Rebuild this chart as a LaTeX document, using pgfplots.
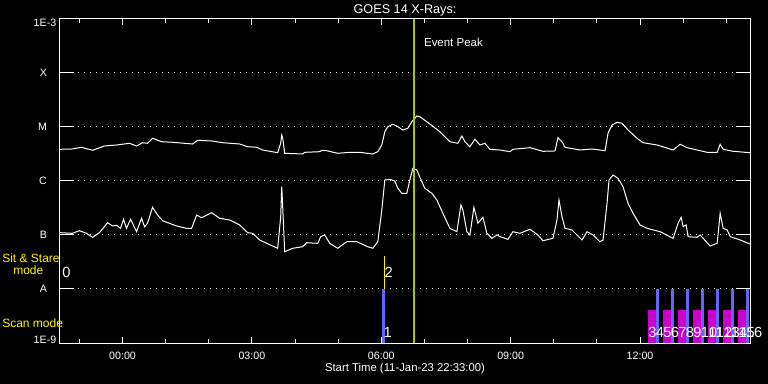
\documentclass[border=0pt]{standalone}
\usepackage{fontspec}
\setmainfont{Liberation Sans}
\usepackage{pgfplots}
\pgfplotsset{compat=1.18}
\usepackage{pgfplotstable}
\definecolor{peak}{RGB}{160,205,0}
\definecolor{barblue}{RGB}{100,100,255}
\definecolor{scanmag}{RGB}{204,0,204}

% hours after 12-Jan-23 00:00, log10 flux (W/m^2)
\pgfplotstableread{
h ly
-1.45 -5.413
-1.161 -5.407
-0.952 -5.376
-0.696 -5.431
-0.418 -5.352
-0.139 -5.333
0.162 -5.302
0.325 -5.352
0.464 -5.291
0.580 -5.302
0.696 -5.209
0.905 -5.272
1.161 -5.283
1.625 -5.315
1.741 -5.246
2.066 -5.259
2.321 -5.291
2.716 -5.315
2.902 -5.365
3.110 -5.376
3.250 -5.426
3.598 -5.476
3.668 -5.296
3.691 -5.148
3.714 -5.204
3.760 -5.487
4.178 -5.500
4.225 -5.469
4.573 -5.457
4.619 -5.431
4.735 -5.439
4.991 -5.487
5.269 -5.469
5.501 -5.469
5.803 -5.500
5.919 -5.457
6.012 -5.333
6.082 -5.087
6.151 -4.994
6.267 -4.950
6.360 -4.981
6.500 -5.056
6.616 -5.024
6.709 -4.902
6.825 -4.796
6.894 -4.809
7.126 -4.944
7.358 -5.087
7.591 -5.272
7.776 -5.302
7.869 -5.167
7.939 -5.272
8.055 -5.365
8.171 -5.228
8.287 -5.333
8.403 -5.302
8.519 -5.413
8.751 -5.426
8.983 -5.457
9.053 -5.413
9.448 -5.383
9.749 -5.450
10.028 -5.444
10.097 -5.198
10.190 -5.272
10.260 -5.376
10.608 -5.426
10.887 -5.407
11.189 -5.439
11.258 -5.117
11.351 -4.963
11.467 -4.913
11.583 -4.931
11.722 -5.056
11.931 -5.209
12.070 -5.291
12.396 -5.333
12.767 -5.426
12.930 -5.320
13.092 -5.383
13.556 -5.469
13.788 -5.469
13.858 -5.320
13.928 -5.413
14.160 -5.450
14.55 -5.476
}\upcurve

\pgfplotstableread{
h ly
-1.45 -6.957
-1.161 -6.969
-0.998 -6.920
-0.836 -6.969
-0.696 -7.043
-0.534 -6.957
-0.348 -6.772
-0.232 -6.833
-0.139 -6.820
-0.046 -6.876
0.023 -6.709
0.093 -6.876
0.186 -6.709
0.325 -6.939
0.441 -6.691
0.511 -6.846
0.580 -6.783
0.696 -6.487
0.812 -6.630
0.929 -6.735
1.253 -6.833
1.486 -6.876
1.602 -6.876
1.718 -6.630
1.834 -6.680
2.066 -6.587
2.252 -6.691
2.484 -6.722
2.716 -6.815
2.902 -6.957
3.018 -6.969
3.180 -7.093
3.343 -7.154
3.598 -7.246
3.668 -6.661
3.691 -6.106
3.714 -6.476
3.760 -7.309
3.946 -7.246
4.178 -7.217
4.271 -7.143
4.526 -7.154
4.596 -7.031
4.689 -7.000
4.805 -7.154
4.991 -7.246
5.200 -7.124
5.432 -7.124
5.687 -7.217
5.803 -7.246
5.919 -7.124
6.012 -6.537
6.082 -5.981
6.198 -5.969
6.314 -6.000
6.383 -6.135
6.476 -6.228
6.592 -6.228
6.662 -5.981
6.732 -5.765
6.825 -5.796
6.894 -5.931
7.010 -6.135
7.173 -6.228
7.289 -6.352
7.428 -6.598
7.591 -6.876
7.753 -6.939
7.846 -6.444
7.892 -6.537
7.985 -6.939
8.055 -7.000
8.148 -6.487
8.241 -6.783
8.357 -6.672
8.449 -6.969
8.566 -7.061
8.682 -7.000
8.751 -7.031
8.937 -7.080
9.053 -6.939
9.215 -6.969
9.448 -6.894
9.633 -7.000
9.749 -7.106
9.981 -7.061
10.074 -6.722
10.121 -6.352
10.190 -6.661
10.260 -6.876
10.422 -6.907
10.654 -7.093
10.771 -6.939
10.910 -7.000
11.072 -7.124
11.142 -7.093
11.235 -6.413
11.281 -5.981
11.374 -5.889
11.490 -5.950
11.606 -6.106
11.722 -6.413
11.838 -6.598
12.001 -6.815
12.163 -6.876
12.465 -6.939
12.767 -7.061
12.883 -6.783
12.953 -6.672
12.999 -6.846
13.069 -6.815
13.115 -7.031
13.324 -7.043
13.394 -7.000
13.626 -7.204
13.788 -7.154
13.812 -6.969
13.858 -6.598
13.928 -6.876
14.021 -6.907
14.091 -7.031
14.323 -7.093
14.55 -7.167
}\lowcurve

\begin{document}
\begin{tikzpicture}
\fill[black] (-45pt,-30.75pt) rectangle (531pt,257.25pt);
\begin{axis}[
  at={(0pt,0pt)}, anchor=south west,
  scale only axis, width=517.5pt, height=243pt,
  xmin=-1.45, xmax=14.55, ymin=1e-9, ymax=1e-3, ymode=log,
  clip=false,
  axis line style={white, line width=0.75pt},
  every tick/.style={white, line width=0.75pt},
  tick align=inside,
  xtick pos=both, ytick pos=both,
  major tick length=4.5pt, minor tick length=2.8pt,
  xtick={0,3,6,9,12},
  xticklabels={00:00,03:00,06:00,09:00,12:00},
  minor xtick={-1,1,2,4,5,7,8,10,11,13,14},
  xticklabel style={anchor=base, yshift=-12.2pt, inner sep=0pt, text=white, font=\fontsize{8}{9.6}\selectfont},
  ytick=\empty,
  extra y ticks={1e-9,1e-8,1e-7,1e-6,1e-5,1e-4,1e-3},
  extra y tick labels={{\raisebox{2.7pt}{1E-9}},{A\kern7pt},{B\kern7pt},{C\kern7pt},{M\kern7pt},{X\kern7pt},{\raisebox{-3.3pt}{1E-3}}},
  extra y tick style={major tick length=10.5pt, grid=major},
  major grid style={white, line width=0.75pt, dash pattern=on 0.75pt off 3.75pt},
  yticklabel style={anchor=base east, xshift=-2.6pt, yshift=-2.7pt, inner sep=0pt, text=white, font=\fontsize{8}{9.6}\selectfont},
  title={GOES 14 X-Rays:},
  title style={at={(axis description cs:0.5,1)}, anchor=base, yshift=-2.25pt, inner sep=0pt, text=white, font=\fontsize{9.5}{11}\selectfont},
  xlabel={Start Time (11-Jan-23 22:33:00)},
  xlabel style={at={(axis description cs:0.5,0)}, anchor=base, yshift=-21.5pt, inner sep=0pt, text=white, font=\fontsize{8.5}{10}\selectfont},
]
% GOES curves
\addplot[white, line width=0.75pt] table[x=h, y expr=10^(\thisrow{ly})] {\upcurve};
\addplot[white, line width=0.75pt] table[x=h, y expr=10^(\thisrow{ly})] {\lowcurve};

% scan mode blocks
\addplot[fill=scanmag, draw=none] coordinates {(12.187,1e-9) (12.187,4.08e-9) (12.373,4.08e-9) (12.373,1e-9)};
\addplot[fill=scanmag, draw=none] coordinates {(12.535,1e-9) (12.535,4.08e-9) (12.721,4.08e-9) (12.721,1e-9)};
\addplot[fill=scanmag, draw=none] coordinates {(12.883,1e-9) (12.883,4.08e-9) (13.069,4.08e-9) (13.069,1e-9)};
\addplot[fill=scanmag, draw=none] coordinates {(13.231,1e-9) (13.231,4.08e-9) (13.418,4.08e-9) (13.418,1e-9)};
\addplot[fill=scanmag, draw=none] coordinates {(13.580,1e-9) (13.580,4.08e-9) (13.766,4.08e-9) (13.766,1e-9)};
\addplot[fill=scanmag, draw=none] coordinates {(13.928,1e-9) (13.928,4.08e-9) (14.114,4.08e-9) (14.114,1e-9)};
\addplot[fill=scanmag, draw=none] coordinates {(14.276,1e-9) (14.276,4.08e-9) (14.462,4.08e-9) (14.462,1e-9)};

% blue bars
\addplot[barblue, line width=2.25pt, unbounded coords=jump] coordinates {
 (6.047,1e-9) (6.047,1e-8) (6.1,nan)
 (12.407,1e-9) (12.407,1e-8) (12.5,nan)
 (12.755,1e-9) (12.755,1e-8) (12.8,nan)
 (13.103,1e-9) (13.103,1e-8) (13.2,nan)
 (13.452,1e-9) (13.452,1e-8) (13.5,nan)
 (13.800,1e-9) (13.800,1e-8) (13.9,nan)
 (14.148,1e-9) (14.148,1e-8) (14.2,nan)
 (14.496,1e-9) (14.496,1e-8)
};
% sit & stare
\addplot[yellow, line width=0.9pt] coordinates {(6.07,1e-8) (6.07,4.08e-8)};

% event peak
\addplot[peak, line width=1.5pt] coordinates {(6.755,1e-9) (6.755,1e-3)};
\node[anchor=base west, inner sep=0pt, xshift=7.5pt, text=white, font=\fontsize{8.6}{10}\selectfont] at (axis cs:6.755,3.03e-4) {Event Peak};

% mode labels
\node[anchor=base west, inner sep=0pt, xshift=-43.5pt, text=yellow, font=\fontsize{9}{10}\selectfont] at (axis cs:-1.45,3.07e-8) {Sit \& Stare};
\node[anchor=base west, inner sep=0pt, xshift=-35.25pt, text=yellow, font=\fontsize{9}{10}\selectfont] at (axis cs:-1.45,1.82e-8) {mode};
\node[anchor=base west, inner sep=0pt, xshift=-43.5pt, text=yellow, font=\fontsize{9}{10}\selectfont] at (axis cs:-1.45,1.90e-9) {Scan mode};

% observation numbers
\begin{scope}[every node/.style={anchor=base west, inner sep=0pt, text=white, font=\fontsize{11}{12}\selectfont}]
\node[xshift=1.5pt] at (axis cs:-1.45,1.6e-8) {0};
\node at (axis cs:6.047,1.24e-9) {1};
\node at (axis cs:6.07,1.6e-8) {2};
\node at (axis cs:12.187,1.24e-9) {3};
\node at (axis cs:12.361,1.24e-9) {4};
\node at (axis cs:12.535,1.24e-9) {5};
\node at (axis cs:12.709,1.24e-9) {6};
\node at (axis cs:12.884,1.24e-9) {7};
\node at (axis cs:13.058,1.24e-9) {8};
\node at (axis cs:13.232,1.24e-9) {9};
\node at (axis cs:13.406,1.24e-9) {10};
\node at (axis cs:13.580,1.24e-9) {11};
\node at (axis cs:13.754,1.24e-9) {12};
\node at (axis cs:13.928,1.24e-9) {13};
\node at (axis cs:14.103,1.24e-9) {14};
\node at (axis cs:14.277,1.24e-9) {15};
\node at (axis cs:14.451,1.24e-9) {16};
\end{scope}
\end{axis}
\pgfresetboundingbox
\path[use as bounding box] (-45pt,-30.75pt) rectangle (531pt,257.25pt);
\end{tikzpicture}
\end{document}
